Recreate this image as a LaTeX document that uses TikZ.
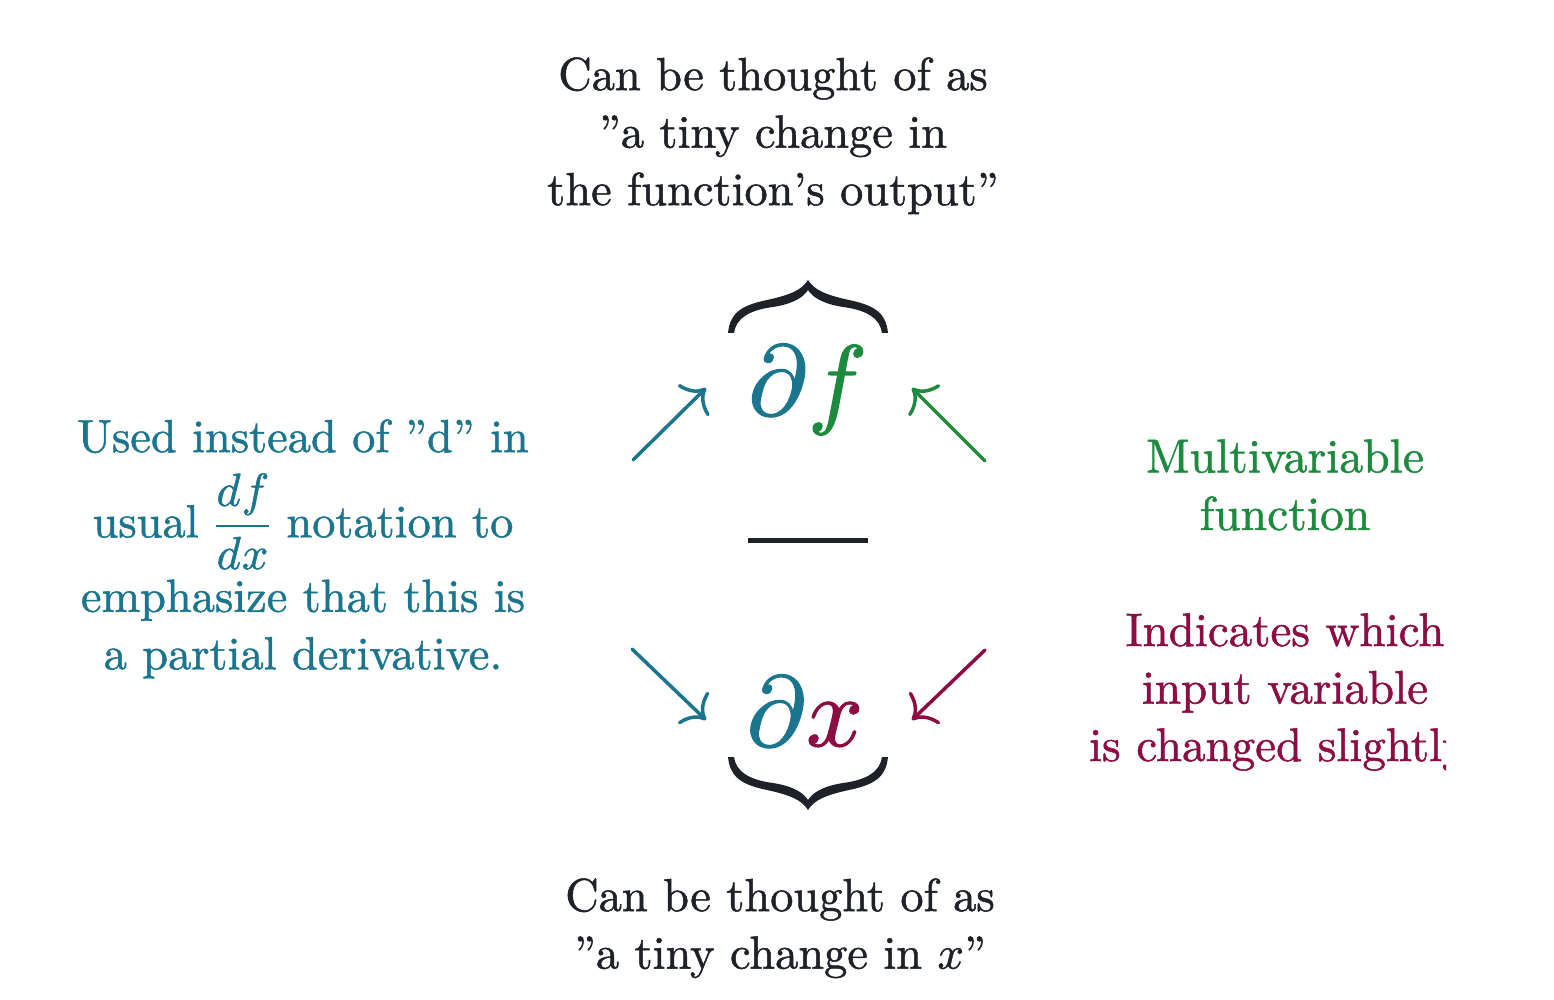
\documentclass[tikz,border=0pt]{standalone}
\usepackage{unicode-math}
\setmainfont{lmroman10-regular.otf}[BoldFont=lmroman10-bold.otf,ItalicFont=lmroman10-italic.otf,FakeBold=1.1]
\setmathfont{latinmodern-math.otf}[FakeBold=1.1]
\usetikzlibrary{arrows.meta}
\definecolor{cink}{RGB}{31,33,40}
\definecolor{cteal}{RGB}{28,117,142}
\definecolor{cgreen}{RGB}{30,138,62}
\definecolor{cplum}{RGB}{140,12,68}
\begin{document}
\begin{tikzpicture}[x=0.5pt,y=-0.5pt,
  txt/.style={inner sep=0pt,anchor=north,align=center,font=\fontsize{23.2}{28.75}\selectfont},
  mth/.style={inner sep=0pt,anchor=base,font=\fontsize{50}{60}\selectfont},
  arr/.style={line width=1.75pt,line cap=round,-{Computer Modern Rightarrow[length=9.5pt,width=22pt]}},
  bracepic/.pic={\fill[cink] (-80,53) .. controls (-78,35) and (-70,26) .. (-41,20)
      .. controls (-18,15) and (-6,10) .. (0,0)
      .. controls (6,10) and (18,15) .. (41,20)
      .. controls (70,26) and (78,35) .. (80,53)
      -- (74,53) .. controls (72,38) and (58,30) .. (35,27)
      .. controls (16,24) and (5,18) .. (0,10)
      .. controls (-5,18) and (-16,24) .. (-35,27)
      .. controls (-58,30) and (-72,38) .. (-74,53) -- cycle;}
]
\useasboundingbox (0,0) rectangle (1554,1000);

% annotations
\node[txt,text=cink] (topnote) at (773,57) {Can be thought of as\\''a tiny change in\\the function's output''};
\node[txt,text=cink] (botnote) at (780,878) {Can be thought of as\\''a tiny change in $x$''};
\node[txt,text=cteal] (leftnote) at (303,419) {Used instead of ''d'' in\\[9pt]usual $\dfrac{df}{dx}$ notation to\\[4pt]emphasize that this is\\a partial derivative.};
\node[txt,text=cgreen,font=\fontsize{23.8}{28.75}\selectfont] (rightgreen) at (1285,439) {Multivariable\\function};
\begin{scope}
  \clip (1000,600) rectangle (1446,800);
  \node[txt,text=cplum,font=\fontsize{23.5}{28.75}\selectfont] (rightplum) at (1285,613) {Indicates which\\input variable\\is changed slightly\hspace*{7pt}};
\end{scope}

% the fraction
\node[mth] (num) at (807,415) {$\textcolor{cteal}{\partial}\textcolor{cgreen}{f}$};
\node[mth] (den) at (805,746) {$\textcolor{cteal}{\partial}\textcolor{cplum}{x}$};
\draw[cink,line width=2.5pt] (748,540.5) -- (868,540.5);
\pic at (808,280) {bracepic};
\pic[yscale=-1] at (808,810) {bracepic};

% arrows
\coordinate (a1s) at (633,460); \coordinate (a1e) at (706,388);
\coordinate (a2s) at (985,461); \coordinate (a2e) at (912,388);
\coordinate (a3s) at (632,649); \coordinate (a3e) at (706,720);
\coordinate (a4s) at (985,650); \coordinate (a4e) at (912,720);
\draw[arr,cteal] (a1s) -- (a1e);
\draw[arr,cgreen] (a2s) -- (a2e);
\draw[arr,cteal] (a3s) -- (a3e);
\draw[arr,cplum] (a4s) -- (a4e);
\end{tikzpicture}
\end{document}
